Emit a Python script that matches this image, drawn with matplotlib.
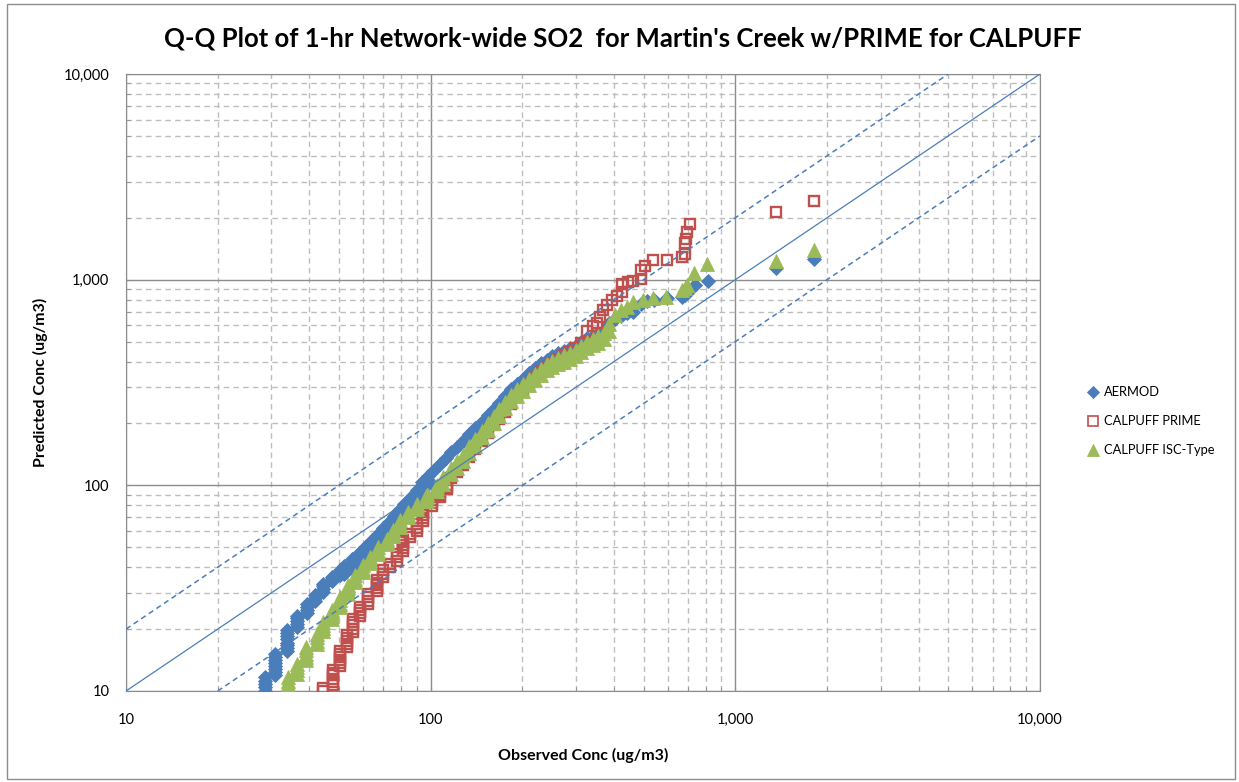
import matplotlib
matplotlib.use("Agg")
import matplotlib.pyplot as plt
from matplotlib.patches import Rectangle
from matplotlib.ticker import FixedLocator, NullFormatter, FuncFormatter

plt.rcParams['font.family'] = ['Lato', 'DejaVu Sans']

# ===== data (ug/m3) =====
# each observed value is paired with the group of ranked predictions at that value
aermod_obs = [28.6, 30.8, 33.7, 36.3, 39.2, 41.7, 44.3, 47.3, 50.4,
              52, 55, 58, 61, 64, 67, 70, 73, 76, 79, 82, 86, 90, 94, 98,
              102, 107, 112, 117, 122, 128, 134, 140, 147, 154, 161, 168, 176, 184,
              192, 201, 210, 220, 230, 240, 251, 262, 274, 286, 299, 312, 326, 340,
              355, 370, 386, 403, 420, 440, 462, 490, 513, 541, 597, 667, 682, 694,
              736, 813, 1358, 1811]
aermod_pred = [[10.0, 10.4, 10.8, 11.2, 11.7],
               [12.0, 12.4, 12.8, 13.2, 13.7, 14.1, 14.6, 15.1],
               [15.6, 16.1, 16.7, 17.2, 17.8, 18.5, 19.1, 19.8],
               [20.5, 21.2, 21.9, 22.6, 23.2], [24.0, 24.8, 25.6, 26.5],
               [27.4, 28.4, 29.3], [30.3, 31.3, 32.3, 33.1], [34.2, 35.0, 35.7],
               [36.8, 37.8, 38.8],
               [36.9, 38.7, 40.5], [39.8, 41.7, 43.7], [42.8, 44.8, 47.0],
               [45.8, 48.0, 50.3], [49.1, 51.5, 54.0], [52.5, 55.0, 57.7],
               [56.3, 59.0, 61.9], [60.4, 63.3, 66.4], [64.6, 67.7, 71.0],
               [68.9, 72.2, 75.7], [73.5, 77.1, 80.8], [80.1, 84.0, 88.0],
               [86.8, 91.0, 95.4], [94.3, 98.8, 103.6], [101, 106, 111.4],
               [118], [127], [136], [145], [154], [165], [177], [189], [204], [220],
               [236], [252], [272], [293], [311], [330], [350], [372], [392], [407],
               [424], [439], [451], [463], [478], [498], [518], [535], [553], [572],
               [614], [644], [665], [689], [700], [760], [790], [800], [810], [822],
               [841], [861], [942], [984], [1138], [1259]]

prime_obs = [44.3, 47.9, 50.4, 53.0, 55.7, 58.6, 62.3, 66.5, 69.9, 73.5, 77.3,
             81.3, 85.5, 89.9, 94.6, 100.7, 107.3, 112.9,
             117, 122, 128, 134, 140, 147, 154, 161, 168, 176, 184, 192, 201, 210,
             220, 230, 240, 251, 262, 274, 286, 299, 312, 326, 340, 351, 359, 368,
             379, 393, 408, 425, 445, 462, 492, 505, 537, 597, 668, 686, 691, 695,
             709, 1358, 1811]
prime_pred = [[10.0, 10.3], [10.7, 11.1, 11.5, 11.9, 12.3, 12.7],
              [13.2, 13.7, 14.2, 14.7, 15.2, 15.7], [16.3, 16.9, 17.5, 18.1, 18.7],
              [19.4, 20.1, 20.9, 21.6, 22.4], [23.2, 24.0, 24.8, 25.6],
              [26.5, 27.5, 28.5, 29.6], [30.6, 31.6, 32.6, 33.6, 34.6],
              [35.8, 37.2, 38.8], [40.0, 41.5], [43.0, 44.6, 46.3],
              [48.0, 49.6, 51.3, 52.8, 54.3], [56.0, 57.9], [59.8, 62.0, 64.6],
              [67.0, 69.5, 72.0, 74.5, 76.9], [79.5, 82.2, 84.9], [87.7, 90.2, 92.7],
              [95.5, 97.8, 100],
              [108], [116], [126], [138], [150], [165], [180], [196], [210], [228],
              [248], [268], [290], [312], [335], [357], [376], [395], [412], [428],
              [445], [465], [490], [560], [598], [614], [660], [712], [753], [795],
              [832], [872, 955], [973], [989], [1003, 1120], [1160], [1250], [1250],
              [1290], [1340, 1506], [1571], [1711], [1870], [2135], [2410]]

isc_obs = [34.1, 36.3, 39.1, 42.2, 44.3, 47.3, 50.4, 53.6, 56.4, 60.1, 63.3, 67.3,
           71.8, 75.5, 79.4, 84.5, 90.0, 97.1, 104.7,
           110, 117, 122, 128, 134, 140, 147, 154, 161, 168, 176, 184, 192, 201,
           210, 220, 230, 240, 251, 262, 274, 286, 299, 312, 326, 340, 355, 370,
           386, 403, 420, 440, 461, 498, 538, 594, 667, 682, 692, 733, 810, 1358, 1811]
isc_pred = [[10.0, 10.4, 10.8, 11.2, 11.7], [12.1, 12.6, 13.1, 13.6],
            [14.1, 14.6, 15.2, 15.8, 16.4], [17.0, 17.6, 18.3, 19.0],
            [19.6, 20.3, 20.9, 21.6], [22.4, 23.1, 23.9, 24.7],
            [25.6, 26.6, 27.6, 28.6], [29.6, 30.6, 31.6, 32.7], [33.8, 35.1, 36.5],
            [37.8, 39.3, 40.8], [42.1, 43.4, 44.8], [46.3, 48.2, 50.1],
            [51.7, 53.3, 55.0], [56.8, 58.6, 60.4], [62.5, 65.0, 67.6],
            [69.8, 72.0, 74.2], [76.6, 79.0, 81.4], [84.0, 87.5, 91.0],
            [94.0, 97.0, 100],
            [102, 110], [113, 122], [122, 131], [131, 141], [144, 155], [156, 168],
            [171, 184], [186, 200], [202, 217], [218, 234], [237, 255], [257, 276],
            [273, 294], [289, 311], [306, 329], [325, 349], [343, 369], [363, 390],
            [375, 403], [387, 416], [399, 429], [410, 441], [424, 456], [445, 478],
            [465, 500], [479, 515], [494, 531], [513, 552], [565, 608],
            [670], [712], [738], [779], [796], [811], [826], [889], [907], [942],
            [1075], [1190], [1231], [1393]]

ref_x = [10, 10000]
ref_1to1 = [10, 10000]
ref_x_hi = [10, 5000]
ref_hi = [20, 10000]
ref_x_lo = [20, 10000]
ref_lo = [10, 5000]

tick_vals = [10, 100, 1000, 10000]

BLUE = '#4A7EBB'
RED = '#C0504D'
GREEN = '#9BBB59'
GRID_MAJ = '#8C8C8C'
GRID_MIN = '#BDBDBD'


def flatten(obs, pred):
    xs = [o for o, grp in zip(obs, pred) for _ in grp]
    ys = [p for grp in pred for p in grp]
    return xs, ys


fig = plt.figure(figsize=(12.39, 7.82), dpi=100)
ax = fig.add_axes([126 / 1239, 91 / 782, 914 / 1239, 617 / 782])

ax.set_xscale('log')
ax.set_yscale('log')
ax.set_xlim(10, 10000)
ax.set_ylim(10, 10000)

minors = [m * 10 ** e for e in range(1, 4) for m in range(2, 10)]
for axis in (ax.xaxis, ax.yaxis):
    axis.set_major_locator(FixedLocator(tick_vals))
    axis.set_minor_locator(FixedLocator(minors))
    axis.set_major_formatter(FuncFormatter(lambda v, p: f'{v:,.0f}'))
    axis.set_minor_formatter(NullFormatter())

ax.grid(which='major', color=GRID_MAJ, lw=1.0, ls='-', zorder=0)
ax.grid(which='minor', color=GRID_MIN, lw=1.0, ls=(0, (4, 3)), zorder=0)
ax.set_axisbelow(True)
for s in ax.spines.values():
    s.set_color(GRID_MAJ)
ax.tick_params(which='both', direction='in', length=3, color=GRID_MAJ, labelsize=10.5)
ax.tick_params(axis='y', pad=12)
ax.tick_params(axis='x', pad=16)

# series
x, y = flatten(aermod_obs, aermod_pred)
h1, = ax.plot(x, y, ls='none', marker='D', ms=7.4, mfc=BLUE, mec=BLUE, mew=0.6, zorder=3)
x, y = flatten(prime_obs, prime_pred)
h2, = ax.plot(x, y, ls='none', marker='s', ms=7.8, mfc='none', mec=RED, mew=1.7, zorder=4)
x, y = flatten(isc_obs, isc_pred)
h3, = ax.plot(x, y, ls='none', marker='^', ms=9.6, mfc=GREEN, mec=GREEN, mew=0.6, zorder=5)

# 1:1 and factor-of-2 lines
ax.plot(ref_x, ref_1to1, color=BLUE, lw=0.9, zorder=6)
ax.plot(ref_x_hi, ref_hi, color=BLUE, lw=1.1, ls=(0, (3.5, 2.5)), zorder=6)
ax.plot(ref_x_lo, ref_lo, color=BLUE, lw=1.1, ls=(0, (3.5, 2.5)), zorder=6)

fig.text(0.503, 0.951, "Q-Q Plot of 1-hr Network-wide SO2  for Martin's Creek w/PRIME for CALPUFF",
         ha='center', va='center', fontsize=18.5, fontweight='bold')
fig.text(583 / 1239, 1 - 755 / 782, 'Observed Conc (ug/m3)', ha='center', va='center',
         fontsize=11.5, fontweight='bold')
fig.text(40 / 1239, 1 - 382 / 782, 'Predicted Conc (ug/m3)', ha='center', va='center',
         rotation=90, fontsize=11.5, fontweight='bold')

leg = fig.legend([h1, h2, h3], ['AERMOD', 'CALPUFF PRIME', 'CALPUFF ISC-Type'],
                 loc='upper left', bbox_to_anchor=(1081 / 1239, 1 - 380 / 782),
                 frameon=False, fontsize=9.3, numpoints=1, handlelength=0.8,
                 handletextpad=0.5, labelspacing=1.3, borderpad=0)
for hnd in leg.legend_handles:
    hnd.set_markersize(hnd.get_markersize() * 0.85)
leg.legend_handles[1].set_markeredgewidth(1.2)

fig.patches.append(Rectangle((7 / 1239, 3 / 782), 1228 / 1239, 775 / 782,
                             transform=fig.transFigure, fill=False,
                             edgecolor=GRID_MAJ, lw=1))

fig.savefig('out.png', dpi=100)
